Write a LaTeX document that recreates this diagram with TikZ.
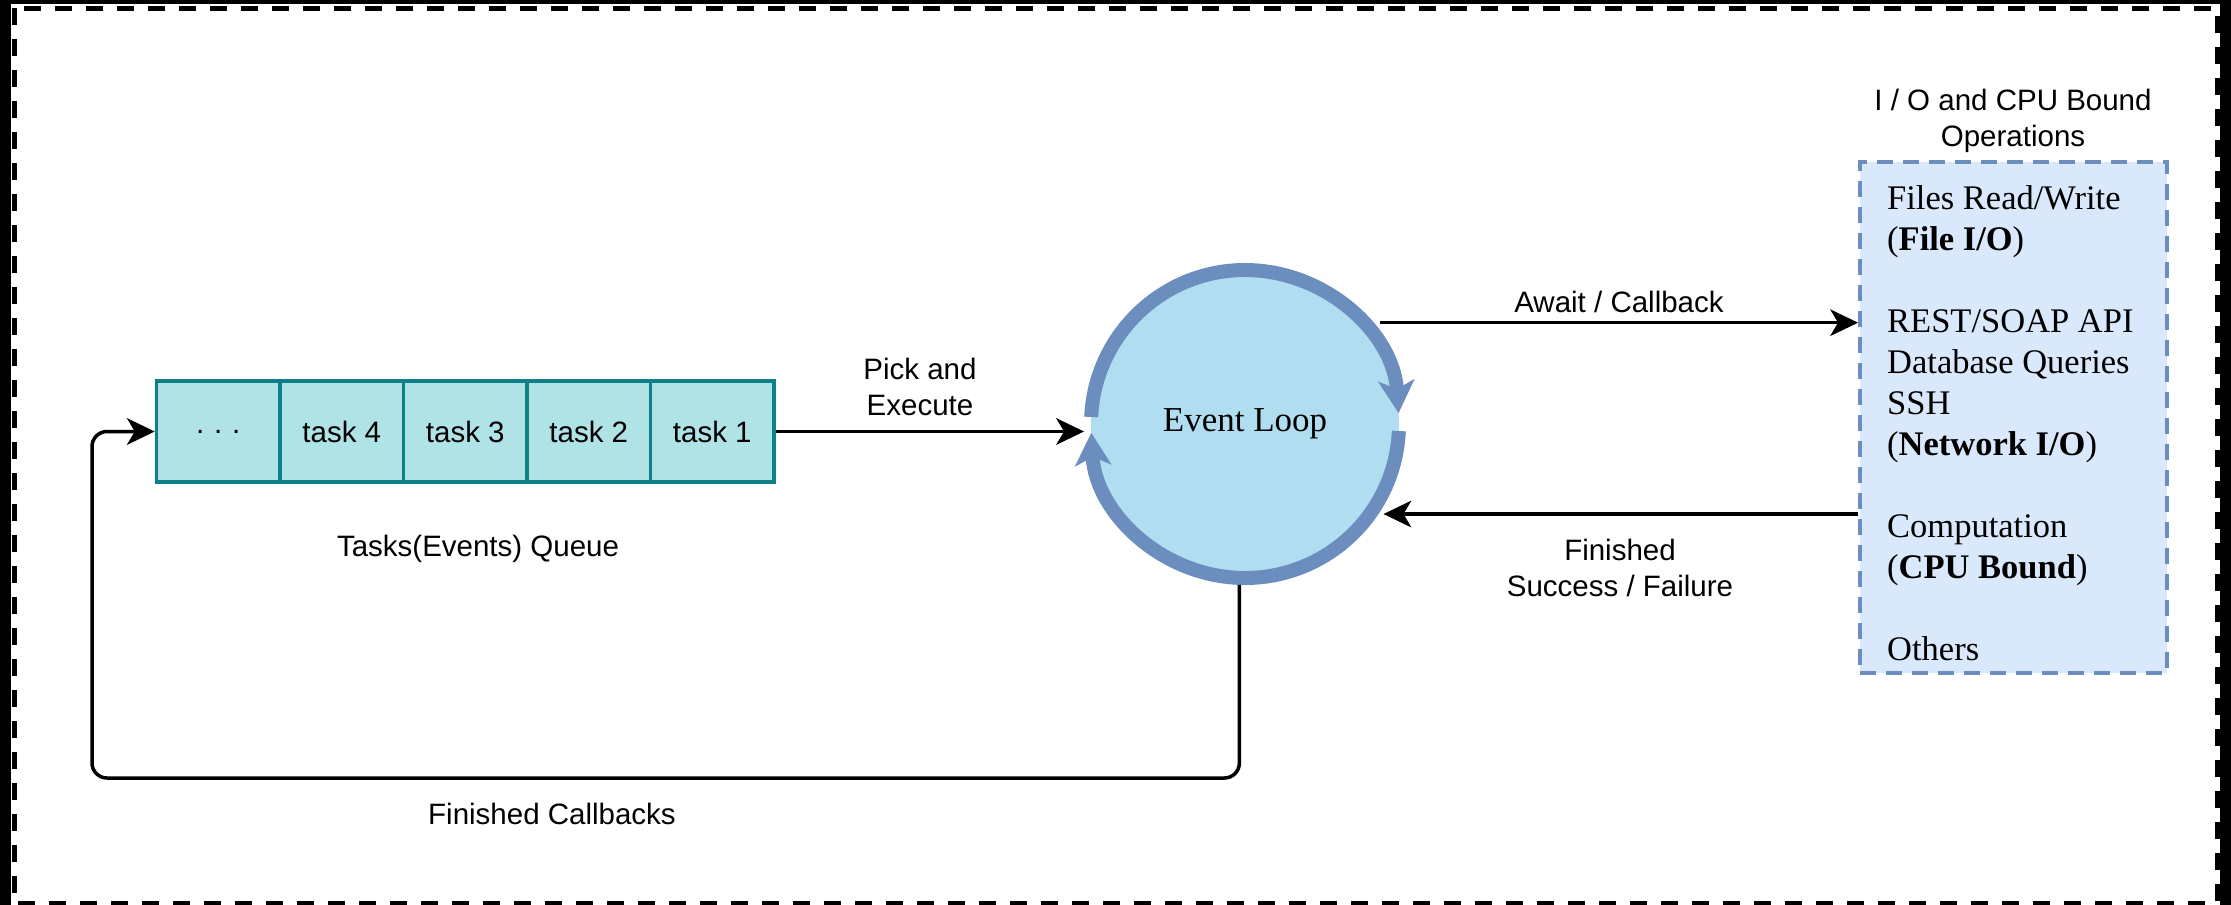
\documentclass[tikz,border=0pt]{standalone}
\usepackage{fontspec}
\setmainfont{Liberation Serif}
\newfontfamily\sansf{Liberation Sans}
\usetikzlibrary{arrows.meta}
\definecolor{tealfill}{HTML}{B0E3E6}
\definecolor{tealline}{HTML}{0E8088}
\definecolor{loopfill}{HTML}{B1DDF0}
\definecolor{loopline}{HTML}{6C8EBF}
\definecolor{iofill}{HTML}{DAE8FC}
\begin{document}
\begin{tikzpicture}[x=1pt,y=-1pt,
  taskbox/.style={draw=tealline, fill=tealfill, line width=3.5pt, minimum width=123.5pt, minimum height=101pt, inner sep=0pt, font=\sansf\fontsize{29.5}{35.4}\selectfont},
  lbl/.style={inner sep=0pt, font=\sansf\fontsize{29.5}{36}\selectfont, align=center},
  conn/.style={line width=3.5pt, -{Stealth[length=28pt,width=27pt,inset=8pt,line width=0pt]}},
  looparc/.style={draw=loopline, line width=14pt, -{Stealth[length=33pt,width=37pt,inset=9pt,line width=0pt]}},
  iobox/.style={draw=loopline, fill=iofill, line width=4pt, dash pattern=on 16pt off 10pt, minimum width=307pt, minimum height=511pt, inner sep=0pt},
  iotxt/.style={inner sep=0pt, align=left, font=\fontsize{34.5}{41}\selectfont},
]
\useasboundingbox (0,0) rectangle (2231,905);
% frame
\fill[black] (0,0) rectangle (2231,905);
\fill[white] (11,4) rectangle (2220,905);
\draw[line width=5pt, dash pattern=on 17pt off 14pt] (14,8) rectangle (2217,903);

% queue
\node[taskbox] (q0) at (218.25,431.5) {.\,\,.\,\,.};
\node[taskbox] (q1) at (341.75,431.5) {task 4};
\node[taskbox] (q2) at (465.25,431.5) {task 3};
\node[taskbox] (q3) at (588.75,431.5) {task 2};
\node[taskbox] (q4) at (712.25,431.5) {task 1};
\node[lbl, anchor=base] (lq) at (478,556) {Tasks(Events) Queue};

% event loop
\node[circle, fill=loopfill, minimum size=308pt, inner sep=0pt, outer sep=7pt, font=\fontsize{35}{42}\selectfont] (el) at (1245,424) {Event Loop};
\draw[looparc] (el.center) ++(177.4:154pt) arc[start angle=177.4, end angle=4.1, radius=154pt];
\draw[looparc] (el.center) ++(-2.6:154pt) arc[start angle=-2.6, end angle=-176.7, radius=154pt];

% I/O box
\node[iobox] (io) at (2013.5,417.5) {};
\node[iotxt, anchor=west] (iot) at (1887,422.7) {Files Read/Write\\
(\textbf{File I/O})\\[41pt]
REST/SOAP API\\
Database Queries\\
SSH\\
(\textbf{Network I/O})\\[41pt]
Computation\\
(\textbf{CPU Bound})\\[41pt]
Others};
\node[lbl] (iotitle) at (2013,120.4) {I / O and CPU Bound\\Operations};

% connectors
\draw[conn] (q4.east) -- (el.west |- q4.east);
\node[lbl] (lpick) at (920,387.3) {Pick and\\Execute};

\draw[conn, shorten <=10pt] (el.39) -- (el.39 -| io.west);
\node[lbl, anchor=base] (law) at (1619,312) {Await / Callback};

\draw[conn, shorten >=5pt] (el.-34.8 -| io.west) -- (el.-34.8);
\node[lbl] (lfin) at (1620,568.3) {Finished\\Success / Failure};

\coordinate (fbl) at (92,778);
\draw[conn, rounded corners=15pt] (el.-92.6) |- (fbl) |- (q0.west);
\node[lbl, anchor=base] (lfc) at (552,824) {Finished Callbacks};
\end{tikzpicture}
\end{document}
